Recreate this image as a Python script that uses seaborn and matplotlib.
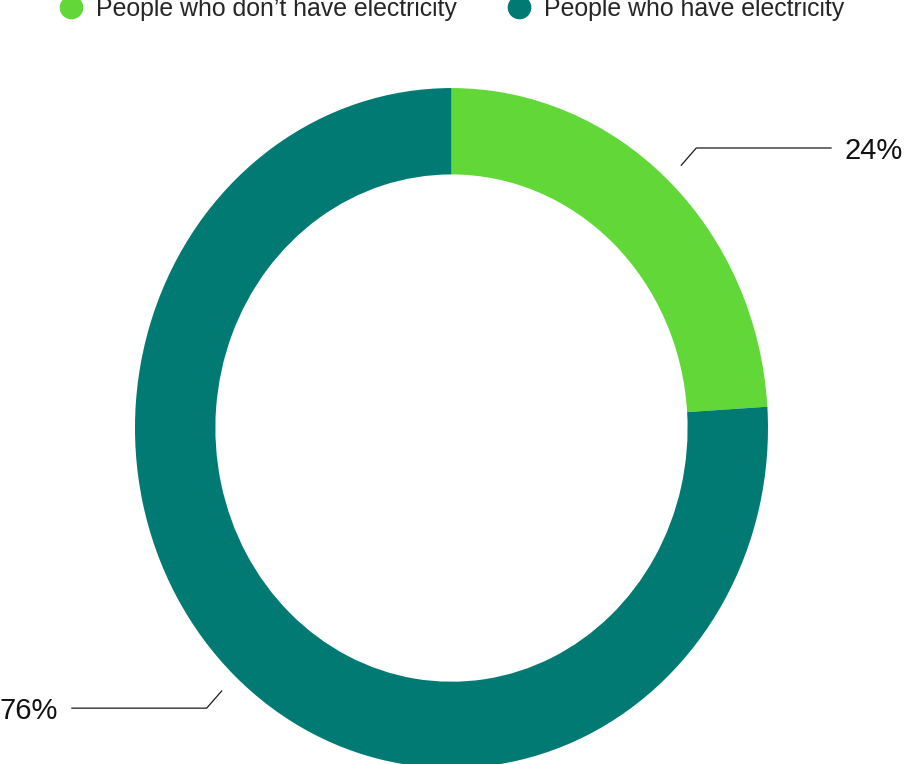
import numpy as np
import matplotlib
matplotlib.use("Agg")
import matplotlib.pyplot as plt
from matplotlib.lines import Line2D
import seaborn as sns

# data
labels = ["People who don\u2019t have electricity", "People who have electricity"]
shares = [24, 76]
colors = ["#62d838", "#007a73"]

sns.set_theme(style="white")
plt.rcParams["font.family"] = ["Liberation Sans", "DejaVu Sans"]

fig = plt.figure(figsize=(9.05, 7.64), dpi=100)
ax = fig.add_axes([0, 0, 1, 1])

wedges, _ = ax.pie(shares, colors=colors, startangle=90, counterclock=False,
                   wedgeprops=dict(width=0.254, linewidth=0))
ax.set_aspect("auto")
# the donut is a bit taller than wide, and cropped at the edges
ax.set_xlim(-1.4265, 1.4329)
ax.set_ylim(-0.988, 1.259)
ax.axis("off")

# leader lines and percentage labels at wedge mid-angles
total = sum(shares)
start = 0.0
for w, val in zip(wedges, shares):
    mid = np.deg2rad((start + val / 2) / total * 360)
    start += val
    sx, cy = np.sin(mid), np.cos(mid)
    side = 1 if sx > 0 else -1
    p0 = (1.06 * sx, 1.06 * cy)
    p1 = (1.13 * sx, 1.13 * cy)
    p2 = (1.2 * side, p1[1])
    ax.plot([p0[0], p1[0], p2[0]], [p0[1], p1[1], p2[1]], color="#1a1a1a", lw=0.9,
            clip_on=False)
    ax.text(1.243 * side, p1[1] - 0.008, f"{val}%", fontsize=21, color="#111111",
            ha="left" if side > 0 else "right", va="center")

handles = [Line2D([0], [0], marker="o", linestyle="", markersize=16,
                  markerfacecolor=c, markeredgecolor=c) for c in colors]
fig.legend(handles, labels, loc="center", bbox_to_anchor=(0.4985, 0.9885), ncol=2,
           frameon=False, fontsize=17.9, handletextpad=0.5, columnspacing=2.0,
           handlelength=1.0, borderaxespad=0)

fig.savefig("out.png", dpi=100)
